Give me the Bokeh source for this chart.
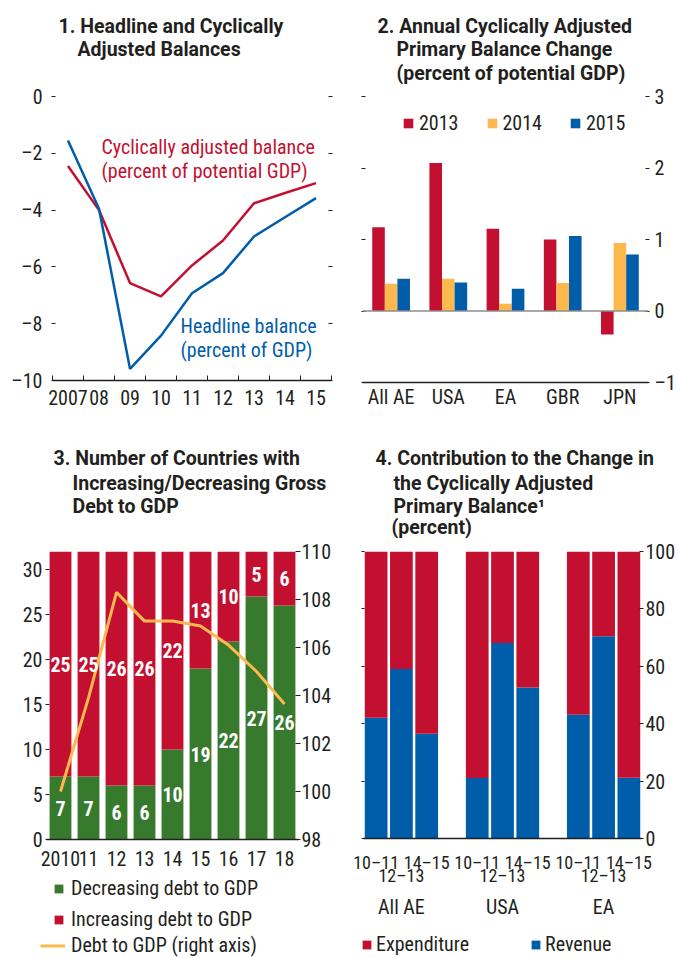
from bokeh.plotting import figure
from bokeh.layouts import row, column
from bokeh.models import (ColumnDataSource, FactorRange, Range1d, LinearAxis,
                          FixedTicker, Label, LabelSet, Legend, LegendItem, Span)
from bokeh.core.properties import value
from bokeh.transform import dodge
from bokeh.embed import file_html
from bokeh.resources import INLINE

FONT = "Roboto Condensed"
TFONT = "Roboto"
TXT = "#231F20"
RED = "#C41030"
BLUE = "#005DAA"
ORANGE = "#FDB94E"
GREEN = "#377A2E"

# ---------------- data ----------------
# Panel 1
years1 = ["2007", "08", "09", "10", "11", "12", "13", "14", "15"]
cab = [-2.45, -4.0, -6.57, -7.04, -5.95, -5.07, -3.76, -3.4, -3.05]
headline = [-1.55, -3.95, -9.59, -8.42, -6.93, -6.22, -4.93, -4.25, -3.58]
y1_ticks = [-10, -8, -6, -4, -2, 0]

# Panel 2
cats2 = ["All AE", "USA", "EA", "GBR", "JPN"]
chg2013 = [1.17, 2.07, 1.15, 1.00, -0.33]
chg2014 = [0.38, 0.45, 0.10, 0.39, 0.95]
chg2015 = [0.45, 0.40, 0.31, 1.05, 0.79]
y2_ticks = [-1, 0, 1, 2, 3]

# Panel 3
years3 = ["2010", "11", "12", "13", "14", "15", "16", "17", "18"]
decreasing = [7, 7, 6, 6, 10, 19, 22, 27, 26]
increasing = [25, 25, 26, 26, 22, 13, 10, 5, 6]
debt = [100.0, 103.9, 108.3, 107.1, 107.1, 106.9, 106.1, 105.0, 103.65]
y3_ticks = [0, 5, 10, 15, 20, 25, 30]
y3r_ticks = [98, 100, 102, 104, 106, 108, 110]

# Panel 4
groups4 = ["All AE", "USA", "EA"]
periods4 = ["10–11", "12–13", "14–15"]
revenue = [42.1, 59.1, 36.5, 21.1, 68.1, 52.6, 43.1, 70.5, 21.2]
expenditure = [100 - r for r in revenue]
y4_ticks = [0, 20, 40, 60, 80, 100]


def dash(v):
    return str(v).replace("-", "–")


def base_fig(w, h, l, r, t, b, **kw):
    p = figure(width=w, height=h, min_border_left=l, min_border_right=r,
               min_border_top=t, min_border_bottom=b, output_backend="svg",
               toolbar_location=None, frame_align=False, **kw)
    p.grid.visible = False
    p.outline_line_color = None
    p.background_fill_color = "white"
    p.border_fill_color = "white"
    return p


def blank_fig(w, h, **kw):
    kw.setdefault("x_range", Range1d(0, 1))
    kw.setdefault("y_range", Range1d(0, 1))
    p = figure(width=w, height=h, min_border=0,
               x_axis_location=None, y_axis_location=None, output_backend="svg",
               toolbar_location=None, frame_align=False, **kw)
    p.grid.visible = False
    p.outline_line_color = None
    p.background_fill_color = "white"
    p.border_fill_color = "white"
    return p


def style_axis(ax, size="20px", ticks=None, labels=True):
    if ticks is not None:
        ax.ticker = FixedTicker(ticks=ticks)
    ax.major_label_text_font = FONT
    ax.major_label_text_font_size = size
    ax.major_label_text_color = TXT
    ax.axis_line_color = TXT
    ax.axis_line_width = 1.5
    ax.major_tick_line_color = TXT
    ax.major_tick_line_width = 1
    ax.minor_tick_line_color = None
    if not labels:
        ax.major_label_overrides = {t: "" for t in ticks}
        ax.major_label_text_color = None
        ax.major_label_standoff = 0


def add_title(p, lines):
    for (txt, x, y) in lines:
        p.add_layout(Label(x=x, y=y, x_units="screen", y_units="screen", text=txt,
                           text_font=TFONT, text_font_style="bold", text_font_size="19.5px",
                           text_color=TXT, text_baseline="middle"))


def legend(items, loc, **kw):
    opts = dict(padding=0, margin=0, glyph_width=11, glyph_height=11,
                label_text_font=FONT, label_text_font_size="20px", label_text_color=TXT,
                border_line_color=None, background_fill_alpha=0)
    opts.update(kw)
    return Legend(items=items, location=loc, **opts)


# ---------------- Panel 1 ----------------
t1 = blank_fig(339, 84)
add_title(t1, [("1. Headline and Cyclically", 58, 58), ("Adjusted Balances", 77, 35)])

p1 = base_fig(339, 344, 52, 8, 12, 48,
              x_range=Range1d(0, len(years1)), y_range=Range1d(-10, 0))
x1 = [i + 0.5 for i in range(len(years1))]
src1 = ColumnDataSource(dict(x=x1, cab=cab, head=headline))
p1.line("x", "cab", source=src1, line_color=RED, line_width=2.5)
p1.line("x", "head", source=src1, line_color=BLUE, line_width=2.5)

xa = p1.xaxis[0]
style_axis(xa)
xa.ticker = FixedTicker(ticks=x1, minor_ticks=list(range(len(years1) + 1)))
xa.major_label_overrides = {x: y for x, y in zip(x1, years1)}
xa.major_tick_line_color = None
xa.major_tick_out = 0
xa.major_tick_in = 0
xa.minor_tick_line_color = TXT
xa.minor_tick_in = 5
xa.minor_tick_out = 0
xa.major_label_standoff = 9

ya = p1.yaxis[0]
style_axis(ya, ticks=y1_ticks)
ya.major_label_overrides = {v: dash(v) for v in y1_ticks}
ya.axis_line_color = None
ya.major_tick_in = 3
ya.major_tick_out = 1
ya.major_label_standoff = 9

ra = LinearAxis()
style_axis(ra, ticks=y1_ticks, labels=False)
ra.axis_line_color = None
ra.major_tick_in = 3
ra.major_tick_out = 1
p1.add_layout(ra, "right")

for txt, x, y, c in [("Cyclically adjusted balance", 49, 234, RED),
                     ("(percent of potential GDP)", 49, 210, RED),
                     ("Headline balance", 128, 55, BLUE),
                     ("(percent of GDP)", 128, 31, BLUE)]:
    p1.add_layout(Label(x=x, y=y, x_units="screen", y_units="screen", text=txt,
                        text_font=FONT, text_font_size="20px", text_color=c,
                        text_baseline="middle"))

# ---------------- Panel 2 ----------------
t2 = blank_fig(339, 84)
add_title(t2, [("2. Annual Cyclically Adjusted", 38, 58),
               ("Primary Balance Change", 57, 35),
               ("(percent of potential GDP)", 57, 11)])

p2 = base_fig(339, 344, 23, 28, 12, 46,
              x_range=FactorRange(factors=cats2), y_range=Range1d(-1, 3))
src2 = ColumnDataSource(dict(cat=cats2, a=chg2013, b=chg2014, c=chg2015))
w2 = 0.22
r13 = p2.vbar(x=dodge("cat", -w2, range=p2.x_range), top="a", bottom=0, width=w2,
              source=src2, fill_color=RED, line_color=None)
r14 = p2.vbar(x=dodge("cat", 0, range=p2.x_range), top="b", bottom=0, width=w2,
              source=src2, fill_color=ORANGE, line_color=None)
r15 = p2.vbar(x=dodge("cat", w2, range=p2.x_range), top="c", bottom=0, width=w2,
              source=src2, fill_color=BLUE, line_color=None)
p2.add_layout(Span(location=0, dimension="width", line_color="#8C8C8C", line_width=1.5))

xa = p2.xaxis[0]
style_axis(xa)
xa.major_tick_line_color = None
xa.major_tick_out = 0
xa.major_tick_in = 0
xa.major_label_standoff = 2

ya = p2.yaxis[0]
style_axis(ya, ticks=y2_ticks, labels=False)
ya.axis_line_color = None
ya.major_tick_in = 3
ya.major_tick_out = 1

ra = LinearAxis()
style_axis(ra, ticks=y2_ticks)
ra.major_label_overrides = {v: dash(v) for v in y2_ticks}
ra.axis_line_color = None
ra.major_tick_in = 3
ra.major_tick_out = 1
ra.major_label_standoff = 5
p2.add_layout(ra, "right")

p2.add_layout(legend([LegendItem(label="2013", renderers=[r13]),
                      LegendItem(label="2014", renderers=[r14]),
                      LegendItem(label="2015", renderers=[r15])],
                     (40, 247), orientation="horizontal", spacing=27,
                     glyph_width=12, glyph_height=12, label_standoff=5), "center")

# ---------------- Panel 3 ----------------
t3 = blank_fig(339, 111)
add_title(t3, [("3. Number of Countries with", 53, 81),
               ("Increasing/Decreasing Gross", 72, 56),
               ("Debt to GDP", 72, 33)])

p3 = base_fig(339, 333, 46, 41, 12, 33,
              x_range=FactorRange(factors=years3), y_range=Range1d(0, 32))
p3.extra_y_ranges = {"debt": Range1d(98, 110)}
src3 = ColumnDataSource(dict(
    year=years3, dec=decreasing, inc=increasing, debt=debt,
    dec_mid=[d / 2 for d in decreasing],
    inc_mid=[d + i / 2 for d, i in zip(decreasing, increasing)],
    dec_txt=[str(d) for d in decreasing], inc_txt=[str(i) for i in increasing]))
rs = p3.vbar_stack(["dec", "inc"], x="year", width=0.78, color=[GREEN, RED],
                   line_color=None, source=src3)
for ycol, tcol in [("dec_mid", "dec_txt"), ("inc_mid", "inc_txt")]:
    p3.add_layout(LabelSet(x="year", y=ycol, text=tcol, source=src3,
                           text_align="center", text_baseline="middle",
                           text_color="white", text_font=value(FONT),
                           text_font_style="bold", text_font_size="20px"))
rl = p3.line("year", "debt", source=src3, y_range_name="debt",
             line_color=ORANGE, line_width=3)

xa = p3.xaxis[0]
style_axis(xa)
xa.major_tick_line_color = None
xa.major_tick_out = 0
xa.major_tick_in = 0
xa.major_label_standoff = 11

ya = p3.yaxis[0]
style_axis(ya, ticks=y3_ticks)
ya.axis_line_color = None
ya.major_tick_in = 3
ya.major_tick_out = 1
ya.major_label_standoff = 3

ra = LinearAxis(y_range_name="debt")
style_axis(ra, ticks=y3r_ticks)
ra.axis_line_color = None
ra.major_tick_in = 3
ra.major_tick_out = 2
ra.major_label_standoff = 1
p3.add_layout(ra, "right")

# legend strip for panel 3: same data and styles; its categories are not on this strip's
# axis, so the strip shows only the legend
l3 = blank_fig(339, 86, x_range=FactorRange(factors=["legend"]), y_range=Range1d(-2, -1))
g3 = l3.vbar_stack(["dec", "inc"], x="year", width=0.78, color=[GREEN, RED],
                   line_color=None, source=src3)
g3l = l3.line("year", "debt", source=src3, line_color=ORANGE, line_width=3)
l3.add_layout(legend([LegendItem(label="Decreasing debt to GDP", renderers=[g3[0]]),
                      LegendItem(label="Increasing debt to GDP", renderers=[g3[1]])],
                     (53, 27), orientation="vertical", spacing=7, label_standoff=7), "center")
l3.add_layout(legend([LegendItem(label="Debt to GDP (right axis)", renderers=[g3l])],
                     (40, 1), orientation="vertical", glyph_width=25, label_standoff=6),
              "center")

# ---------------- Panel 4 ----------------
t4 = blank_fig(339, 111)
add_title(t4, [("4. Contribution to the Change in", 36, 81),
               ("the Cyclically Adjusted", 54, 56),
               ("Primary Balance¹", 54, 33),
               ("(percent)", 52, 12)])

n_per = len(periods4)
slot = n_per + 1
x4, lab4 = [], []
for g in range(len(groups4)):
    for k in range(n_per):
        x4.append(g * slot + k + 0.5)
        lab4.append(periods4[k])
p4 = base_fig(339, 391, 24, 36, 12, 92,
              x_range=Range1d(0, len(groups4) * slot - 1), y_range=Range1d(0, 100))
src4 = ColumnDataSource(dict(x=x4, period=lab4, rev=revenue, exp=expenditure))
rs4 = p4.vbar_stack(["rev", "exp"], x="x", width=0.9, color=[BLUE, RED],
                    line_color=None, source=src4)

row1 = [x for x, l in zip(x4, lab4) if l != periods4[1]]
row2 = [x for x, l in zip(x4, lab4) if l == periods4[1]]
xa = p4.xaxis[0]
style_axis(xa, size="18px", ticks=row1)
xa.major_label_overrides = {x: l for x, l in zip(x4, lab4) if x in row1}
xa.major_tick_line_color = None
xa.major_tick_out = 0
xa.major_tick_in = 0
xa.major_label_standoff = 13

xb = LinearAxis()
style_axis(xb, size="18px", ticks=row2)
xb.major_label_overrides = {x: periods4[1] for x in row2}
xb.axis_line_color = None
xb.major_tick_line_color = None
xb.major_tick_out = 0
xb.major_tick_in = 0
xb.major_label_standoff = -11
p4.add_layout(xb, "below")

xc = LinearAxis()
style_axis(xc, ticks=row2)
xc.major_label_overrides = {x: g for x, g in zip(row2, groups4)}
xc.axis_line_color = None
xc.major_tick_line_color = None
xc.major_tick_out = 0
xc.major_tick_in = 0
xc.major_label_standoff = 6
p4.add_layout(xc, "below")

ya = p4.yaxis[0]
style_axis(ya, ticks=y4_ticks, labels=False)
ya.axis_line_color = None
ya.major_tick_in = 1
ya.major_tick_out = 2

ra = LinearAxis()
style_axis(ra, ticks=y4_ticks)
ra.axis_line_color = None
ra.major_tick_in = 2
ra.major_tick_out = 2
ra.major_label_standoff = 2
p4.add_layout(ra, "right")

l4 = blank_fig(339, 28, x_range=FactorRange(factors=["legend"]), y_range=Range1d(-2, -1))
g4 = l4.vbar_stack(["rev", "exp"], x="period", width=0.9, color=[BLUE, RED],
                   line_color=None, source=src4)
l4.add_layout(legend([LegendItem(label="Expenditure", renderers=[g4[1]]),
                      LegendItem(label="Revenue", renderers=[g4[0]])],
                     (22, 2), orientation="horizontal", spacing=61, label_standoff=4),
              "center")

layout = row(column(t1, p1, t3, p3, l3), column(t2, p2, t4, p4, l4))
open("out.html", "w").write(file_html(layout, INLINE))
